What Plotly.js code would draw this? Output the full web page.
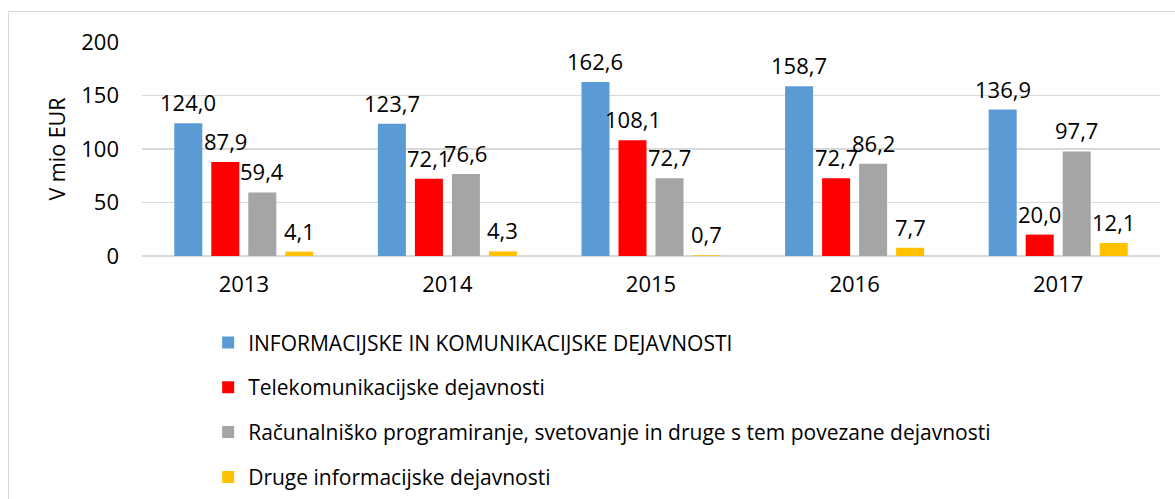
<!DOCTYPE html>
<html>
<head>
<meta charset="utf-8">
<script src="https://cdn.plot.ly/plotly-3.0.1.min.js"></script>
<style>
  html, body { margin: 0; padding: 0; background: #ffffff; overflow: hidden; }
  #wrap { position: relative; width: 1175px; height: 499px; }
  #chart { position: absolute; left: 0; top: 0; width: 1175px; height: 499px; }
  #frame { position: absolute; left: 8px; top: 11px; width: 1180px; height: 500px;
           border: 1.5px solid #D9D9D9; pointer-events: none; }
</style>
</head>
<body>
<div id="wrap">
  <div id="chart"></div>
  <div id="frame"></div>
</div>
<script>
const years = ['2013', '2014', '2015', '2016', '2017'];
const seriesNames = [
  'INFORMACIJSKE IN KOMUNIKACIJSKE DEJAVNOSTI',
  'Telekomunikacijske dejavnosti',
  'Računalniško programiranje, svetovanje in druge s tem povezane dejavnosti',
  'Druge informacijske dejavnosti'
];
const infoKom = [124.0, 123.7, 162.6, 158.7, 136.9];
const telekom = [87.9, 72.1, 108.1, 72.7, 20.0];
const racunal = [59.4, 76.6, 72.7, 86.2, 97.7];
const druge = [4.1, 4.3, 0.7, 7.7, 12.1];
const yTicks = [0, 50, 100, 150, 200];

const seriesValues = [infoKom, telekom, racunal, druge];
const colors = ['#5B9BD5', '#FF0000', '#A5A5A5', '#FFC000'];
const FONT = '"Open Sans", sans-serif';
const BARGAP = 0.273;
const BARGROUPGAP = 0.243;

const traces = seriesValues.map((vals, i) => ({
  type: 'bar',
  name: seriesNames[i],
  x: years,
  y: vals,
  legendgroup: 'g' + i,
  marker: { color: colors[i], line: { width: 0 } },
  hoverinfo: 'x+y+name'
}));

// data labels centred above each bar, placed through the category axis
const nSeries = seriesValues.length;
const slot = (1 - BARGAP) / nSeries;
const annotations = [];
seriesValues.forEach((vals, s) => {
  vals.forEach((v, i) => {
    annotations.push({
      xref: 'x', yref: 'y',
      x: i + (s - (nSeries - 1) / 2) * slot,
      y: v,
      text: v.toFixed(1).replace('.', ','),
      showarrow: false,
      xanchor: 'center',
      yanchor: 'bottom',
      yshift: 4,
      font: { family: FONT, size: 22, color: '#000000' }
    });
  });
});

const layout = {
  width: 1175,
  height: 499,
  margin: { l: 142, r: 15, t: 42, b: 243, autoexpand: false },
  paper_bgcolor: '#ffffff',
  plot_bgcolor: '#ffffff',
  separators: ',.',
  barmode: 'group',
  bargap: BARGAP,
  bargroupgap: BARGROUPGAP,
  font: { family: FONT, size: 22, color: '#000000' },
  xaxis: {
    type: 'category',
    showgrid: false,
    showline: false,
    zeroline: false,
    ticks: '',
    ticklabelstandoff: 13,
    tickfont: { family: FONT, size: 22, color: '#000000' }
  },
  yaxis: {
    range: [0, 200],
    tickvals: yTicks,
    ticktext: yTicks.map(String),
    showgrid: true,
    gridcolor: '#D9D9D9',
    gridwidth: 1.3,
    zeroline: true,
    zerolinecolor: '#D9D9D9',
    zerolinewidth: 1.5,
    showline: false,
    ticks: '',
    ticklabelstandoff: 22,
    tickfont: { family: FONT, size: 22, color: '#000000' },
    title: { text: 'V mio EUR', standoff: 9, font: { family: FONT, size: 21.5, color: '#000000' } }
  },
  annotations: annotations,
  showlegend: true,
  legend: {
    orientation: 'v',
    x: 0.065,
    xanchor: 'left',
    y: -0.31,
    yanchor: 'top',
    traceorder: 'grouped',
    tracegroupgap: 14.5,
    bgcolor: 'rgba(0,0,0,0)',
    font: { family: FONT, size: 21, color: '#000000' }
  }
};

Plotly.newPlot('chart', traces, layout, { displayModeBar: false, staticPlot: true });
</script>
</body>
</html>
